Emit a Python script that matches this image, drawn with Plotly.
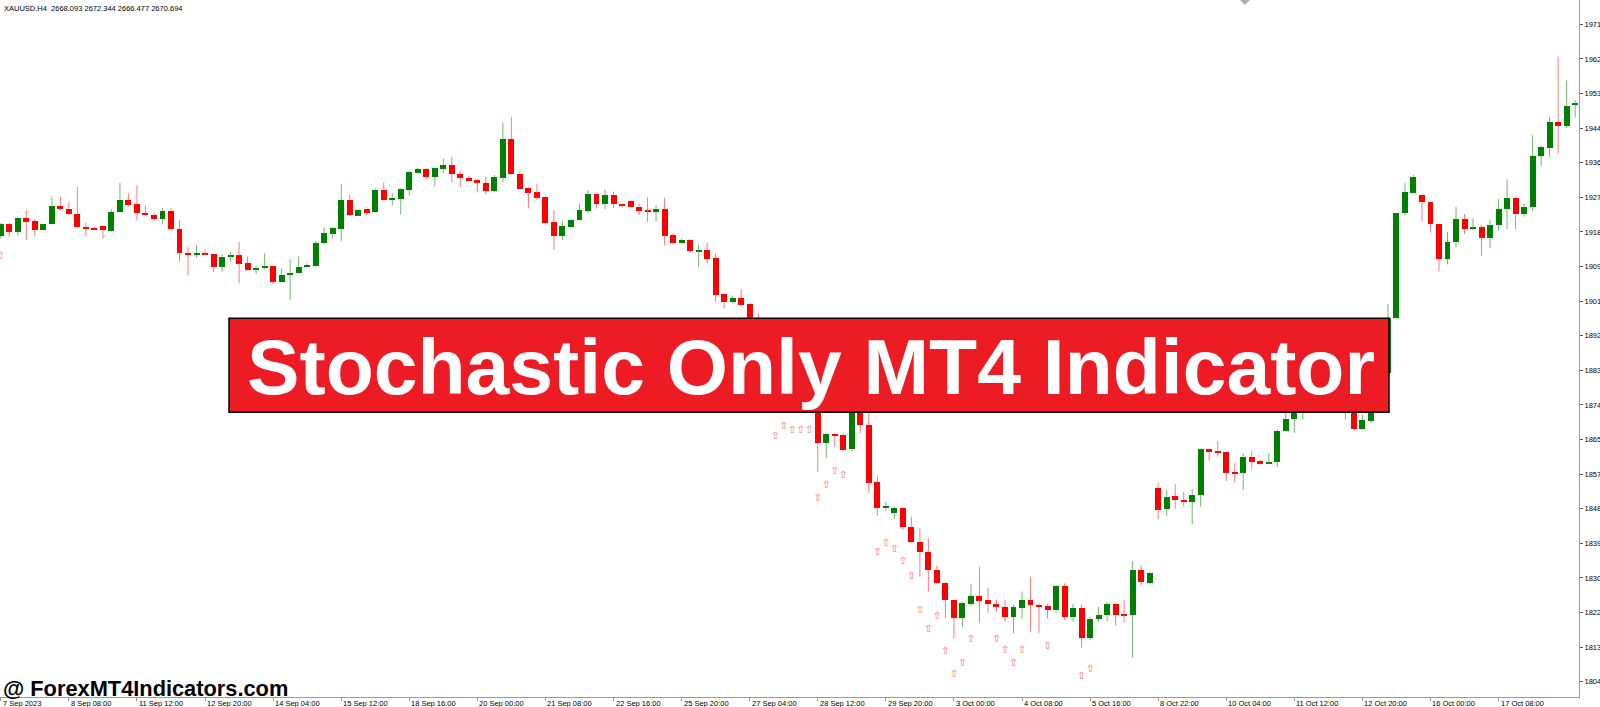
import plotly.graph_objects as go

# ---------------- data (XAUUSD H4) ----------------
opens = [1917.2, 1920.2, 1918.3, 1921.9, 1921.0, 1918.7, 1920.2, 1924.9, 1924.2, 1922.9,
         1919.5, 1919.3, 1919.7, 1918.5, 1923.2, 1926.4, 1925.3, 1923.1, 1922.6, 1921.5,
         1923.6, 1919.0, 1912.9, 1912.4, 1912.9, 1912.6, 1909.4, 1912.0, 1912.3, 1910.3,
         1908.7, 1909.2, 1909.7, 1905.6, 1907.4, 1907.8, 1909.4, 1909.7, 1915.4, 1917.8,
         1919.1, 1926.4, 1922.4, 1924.2, 1923.3, 1928.9, 1926.4, 1926.7, 1928.9, 1933.3,
         1934.2, 1932.2, 1934.3, 1935.2, 1933.0, 1931.9, 1931.4, 1930.7, 1928.6, 1932.0,
         1941.9, 1933.0, 1929.4, 1928.3, 1927.1, 1920.7, 1917.3, 1919.4, 1921.3, 1923.6,
         1927.9, 1925.3, 1927.6, 1925.3, 1926.2, 1924.7, 1923.6, 1923.4, 1924.1, 1917.4,
         1915.5, 1916.2, 1913.4, 1913.7, 1911.6, 1902.4, 1900.4, 1901.5, 1899.9, 1893.9,
         1890.3, 1892.8, 1879.4, 1877.3, 1878.6, 1876.8, 1876.1, 1864.6, 1866.9, 1866.6,
         1863.0, 1876.8, 1869.2, 1854.7, 1848.0, 1846.9, 1848.1, 1843.2, 1839.5, 1837.0,
         1832.4, 1829.1, 1824.8, 1820.3, 1823.7, 1825.8, 1824.8, 1823.7, 1823.0, 1820.4,
         1822.8, 1824.8, 1823.5, 1823.2, 1822.1, 1828.2, 1820.4, 1822.7, 1815.1, 1819.9,
         1820.9, 1823.8, 1821.2, 1820.9, 1832.4, 1829.0, 1853.3, 1847.8, 1851.1, 1850.2,
         1849.7, 1851.4, 1863.0, 1862.5, 1862.3, 1857.3, 1857.1, 1861.2, 1860.0, 1859.5,
         1859.9, 1867.8, 1870.8, 1876.1, 1879.4, 1877.6, 1880.6, 1878.6, 1875.0, 1873.0,
         1868.1, 1870.3, 1874.3, 1882.3, 1896.3, 1923.0, 1928.2, 1927.6, 1925.9, 1920.3,
         1911.4, 1915.6, 1921.5, 1919.0, 1919.4, 1916.8, 1919.9, 1924.0, 1926.9, 1922.7,
         1924.7, 1937.5, 1939.5, 1946.2, 1945.2, 1950.5]
highs = [1920.5, 1920.5, 1922.1, 1923.8, 1921.6, 1920.3, 1927.1, 1927.3, 1925.9, 1929.7,
         1920.6, 1919.6, 1919.7, 1924.0, 1930.7, 1928.1, 1930.1, 1925.0, 1923.1, 1924.3,
         1924.3, 1921.3, 1914.5, 1914.9, 1913.8, 1912.6, 1912.6, 1913.1, 1915.7, 1912.0,
         1909.7, 1912.8, 1909.7, 1909.0, 1911.3, 1912.0, 1910.3, 1915.9, 1919.4, 1919.6,
         1930.4, 1927.8, 1924.0, 1924.5, 1929.3, 1930.8, 1928.1, 1929.3, 1933.7, 1934.6,
         1934.4, 1934.7, 1936.9, 1937.4, 1933.7, 1932.5, 1931.6, 1932.2, 1932.7, 1946.0,
         1947.5, 1933.8, 1929.6, 1930.5, 1927.3, 1923.8, 1921.0, 1921.6, 1925.5, 1928.9,
         1928.1, 1929.1, 1928.5, 1925.5, 1926.4, 1925.3, 1927.1, 1925.0, 1926.9, 1917.9,
         1916.6, 1916.4, 1915.1, 1915.6, 1912.8, 1902.7, 1902.0, 1903.7, 1900.1, 1897.7,
         1894.4, 1893.8, 1881.9, 1879.6, 1879.6, 1878.1, 1876.8, 1866.9, 1866.9, 1867.1,
         1878.6, 1878.1, 1873.0, 1856.3, 1849.6, 1848.5, 1848.3, 1845.9, 1843.0, 1840.4,
         1833.4, 1829.3, 1824.8, 1824.3, 1828.8, 1833.2, 1827.9, 1824.8, 1824.8, 1823.5,
         1826.9, 1830.5, 1823.9, 1823.8, 1828.6, 1829.0, 1823.7, 1823.7, 1820.5, 1823.0,
         1824.2, 1824.1, 1824.8, 1834.7, 1833.6, 1831.9, 1854.5, 1852.7, 1854.2, 1852.2,
         1853.0, 1863.2, 1863.2, 1865.1, 1862.3, 1859.6, 1862.0, 1862.6, 1860.3, 1862.0,
         1868.1, 1873.0, 1877.3, 1881.1, 1880.6, 1882.7, 1881.9, 1879.6, 1876.1, 1874.3,
         1871.8, 1875.6, 1883.2, 1899.9, 1923.1, 1930.8, 1932.7, 1927.6, 1925.9, 1920.3,
         1918.3, 1924.7, 1922.8, 1921.7, 1920.0, 1921.3, 1926.6, 1931.6, 1926.9, 1925.5,
         1942.9, 1940.1, 1947.5, 1962.8, 1956.7, 1951.8]
lows = [1916.6, 1917.0, 1917.3, 1916.2, 1917.2, 1918.7, 1920.1, 1923.8, 1922.6, 1919.2,
        1917.2, 1918.7, 1916.5, 1918.4, 1923.1, 1924.7, 1921.3, 1922.4, 1921.1, 1920.3,
        1918.7, 1910.7, 1907.3, 1911.7, 1912.4, 1908.1, 1908.1, 1910.7, 1905.2, 1908.4,
        1907.6, 1908.8, 1905.0, 1905.4, 1901.0, 1907.8, 1909.3, 1909.4, 1915.2, 1916.6,
        1916.0, 1922.3, 1922.3, 1922.4, 1923.1, 1926.2, 1925.0, 1922.7, 1927.5, 1933.1,
        1931.7, 1929.8, 1933.3, 1930.9, 1929.7, 1931.0, 1928.3, 1927.8, 1928.4, 1930.9,
        1932.7, 1929.1, 1924.2, 1926.4, 1920.1, 1913.7, 1916.2, 1919.3, 1921.1, 1923.1,
        1924.2, 1924.1, 1924.4, 1924.5, 1924.5, 1922.6, 1920.8, 1920.9, 1914.9, 1915.2,
        1915.4, 1913.0, 1909.4, 1910.3, 1900.5, 1898.8, 1900.1, 1899.5, 1892.6, 1888.8,
        1889.3, 1873.5, 1876.1, 1875.0, 1875.0, 1874.8, 1857.3, 1860.8, 1863.7, 1862.6,
        1862.6, 1867.2, 1852.0, 1846.1, 1847.4, 1845.4, 1842.7, 1839.2, 1830.7, 1826.9,
        1828.8, 1820.1, 1815.0, 1817.8, 1823.2, 1819.0, 1821.5, 1821.8, 1819.3, 1816.3,
        1819.9, 1816.7, 1816.3, 1820.0, 1821.5, 1819.7, 1819.3, 1812.6, 1814.6, 1819.2,
        1819.4, 1818.2, 1819.1, 1810.1, 1828.5, 1828.7, 1845.3, 1846.1, 1847.8, 1848.6,
        1844.0, 1848.5, 1860.1, 1861.2, 1855.0, 1854.6, 1852.7, 1857.9, 1859.2, 1859.3,
        1858.5, 1867.5, 1867.2, 1870.6, 1876.1, 1876.6, 1876.8, 1874.0, 1870.6, 1867.8,
        1867.9, 1869.6, 1873.0, 1881.1, 1896.1, 1922.4, 1928.1, 1921.0, 1918.1, 1908.2,
        1910.0, 1914.3, 1917.7, 1918.7, 1912.2, 1914.1, 1918.6, 1919.0, 1919.0, 1922.1,
        1923.6, 1935.1, 1937.2, 1938.2, 1944.6, 1947.3]
closes = [1920.2, 1918.3, 1921.9, 1920.9, 1918.7, 1920.2, 1924.9, 1924.1, 1922.8, 1919.4,
          1919.1, 1918.9, 1918.8, 1923.3, 1926.4, 1925.2, 1923.0, 1922.6, 1921.5, 1923.6,
          1918.9, 1912.8, 1912.4, 1912.9, 1912.6, 1909.4, 1912.0, 1912.3, 1910.2, 1908.7,
          1909.2, 1909.7, 1905.6, 1907.4, 1907.9, 1909.4, 1909.8, 1915.4, 1917.9, 1919.2,
          1926.4, 1922.5, 1923.8, 1923.1, 1928.9, 1926.4, 1926.9, 1929.1, 1933.4, 1934.2,
          1932.3, 1934.4, 1935.2, 1933.0, 1931.9, 1931.3, 1930.6, 1928.7, 1932.1, 1941.9,
          1932.9, 1929.2, 1928.2, 1927.0, 1920.4, 1917.3, 1919.8, 1921.4, 1923.8, 1927.9,
          1925.3, 1927.6, 1925.3, 1925.0, 1924.7, 1923.6, 1923.4, 1924.1, 1917.3, 1915.4,
          1916.2, 1913.4, 1913.7, 1911.4, 1902.3, 1900.4, 1901.5, 1899.8, 1893.9, 1890.3,
          1892.8, 1879.4, 1877.3, 1878.6, 1876.8, 1876.1, 1864.6, 1866.9, 1866.5, 1862.9,
          1876.8, 1869.2, 1854.6, 1848.0, 1848.7, 1848.1, 1843.2, 1839.5, 1837.0, 1832.3,
          1829.0, 1824.8, 1820.3, 1823.9, 1825.8, 1824.6, 1823.7, 1823.1, 1820.4, 1822.9,
          1824.8, 1823.5, 1823.0, 1822.2, 1828.2, 1820.4, 1822.7, 1815.1, 1820.0, 1820.9,
          1823.8, 1820.9, 1820.9, 1832.4, 1829.2, 1831.7, 1847.7, 1850.8, 1850.2, 1849.7,
          1851.4, 1863.0, 1862.3, 1862.2, 1857.1, 1856.8, 1861.2, 1859.9, 1859.4, 1859.9,
          1867.8, 1870.7, 1876.1, 1879.4, 1877.6, 1880.6, 1878.6, 1875.0, 1873.0, 1868.1,
          1870.5, 1874.3, 1882.2, 1896.3, 1923.0, 1928.3, 1932.3, 1925.8, 1920.2, 1911.4,
          1915.7, 1921.5, 1919.0, 1919.4, 1916.8, 1919.9, 1924.0, 1926.9, 1922.7, 1924.7,
          1937.5, 1939.8, 1946.2, 1945.2, 1950.3, 1950.9]

# Stochastic "buy" arrows: bar index and price level
arrow_bars = [0, 91, 92, 93, 94, 95, 96, 97, 98, 99, 103, 104, 105, 106, 107, 108, 109,
              110, 111, 112, 113, 114, 117, 118, 119, 120, 123, 127, 128]
arrow_prices = [1912.0, 1866.2, 1868.9, 1867.9, 1867.9, 1867.9, 1850.6, 1853.8, 1857.3,
                1856.5, 1836.9, 1839.2, 1837.6, 1834.5, 1830.8, 1822.0, 1817.3, 1820.5,
                1811.6, 1805.9, 1808.7, 1814.6, 1814.6, 1811.8, 1808.5, 1812.0, 1812.9,
                1805.3, 1807.1]

time_labels = ["7 Sep 2023", "8 Sep 08:00", "11 Sep 12:00", "12 Sep 20:00", "14 Sep 04:00",
               "15 Sep 12:00", "18 Sep 16:00", "20 Sep 00:00", "21 Sep 08:00", "22 Sep 16:00",
               "25 Sep 20:00", "27 Sep 04:00", "28 Sep 12:00", "29 Sep 20:00", "3 Oct 00:00",
               "4 Oct 08:00", "5 Oct 16:00", "8 Oct 22:00", "10 Oct 04:00", "11 Oct 12:00",
               "12 Oct 20:00", "16 Oct 00:00", "17 Oct 08:00"]
time_label_bars = [0, 8, 16, 24, 32, 40, 48, 56, 64, 72, 80, 88, 96, 104, 112, 120, 128,
                   136, 144, 152, 160, 168, 176]
price_labels = ["1804", "1813", "1822", "1830", "1839", "1848", "1857", "1865", "1874",
                "1883", "1892", "1901", "1909", "1918", "1927", "1936", "1944", "1953",
                "1962", "1971"]
price_label_values = [1804 + k * 167 / 19 for k in range(len(price_labels))]

header_text = "XAUUSD,H4  2668.093 2672.344 2666.477 2670.694"
banner_text = "Stochastic Only MT4 Indicator"
watermark_text = "@ ForexMT4Indicators.com"

# ---------------- figure ----------------
W, H = 1600, 707
ML, MR, MT, MB = 0, 21, 0, 10
PW, PH = W - ML - MR, H - MT - MB

UP_BODY, DN_BODY = "#008000", "#ff0000"
UP_WICK, DN_WICK = "#6fb86f", "#ff7a7a"

n = len(opens)
idx = list(range(n))
is_up = [c >= o for o, c in zip(opens, closes)]

fig = go.Figure()

for want_up, body_col, wick_col in [(True, UP_BODY, UP_WICK), (False, DN_BODY, DN_WICK)]:
    sel = [i for i in idx if is_up[i] == want_up]
    wx, wy = [], []
    for i in sel:
        top = max(opens[i], closes[i])
        bot = min(opens[i], closes[i])
        wx += [i, i, None, i, i, None]
        wy += [highs[i], top, None, bot, lows[i], None]
    fig.add_trace(go.Scatter(x=wx, y=wy, mode="lines",
                             line=dict(color=wick_col, width=1),
                             hoverinfo="skip", showlegend=False))
    fig.add_trace(go.Bar(
        x=sel,
        base=[min(opens[i], closes[i]) for i in sel],
        y=[max(abs(closes[i] - opens[i]), 0.3) for i in sel],
        width=0.7,
        marker=dict(color=body_col, line=dict(width=0)),
        hoverinfo="skip", showlegend=False))

fig.add_trace(go.Scatter(
    x=arrow_bars, y=arrow_prices, mode="text",
    text=["\u21e7"] * len(arrow_bars),
    textposition="middle center",
    textfont=dict(family="DejaVu Sans", size=10, color="#ff6f6f"),
    hoverinfo="skip", showlegend=False))

px_per_bar = 8.51
x0 = -0.8 / px_per_bar
x1 = x0 + PW / px_per_bar
y_top = 1977.17
y_bot = y_top - 0.25403 * PH

axis_gray = "#9a9a9a"
fig.update_xaxes(range=[x0, x1], showgrid=False, zeroline=False,
                 tickvals=time_label_bars, showticklabels=False,
                 ticks="outside", ticklen=3, tickcolor=axis_gray, tickwidth=1,
                 showline=True, linecolor=axis_gray, linewidth=1, automargin=False)
fig.update_yaxes(range=[y_bot, y_top], side="right", showgrid=False, zeroline=False,
                 tickvals=price_label_values, ticktext=price_labels,
                 ticks="outside", ticklen=3, tickcolor="#555555", tickwidth=1,
                 tickfont=dict(family="Liberation Sans", size=7.5, color="#000000"),
                 showline=True, mirror=True, linecolor=axis_gray, linewidth=1,
                 automargin=False)

annotations = []
for b, lab in zip(time_label_bars, time_labels):
    annotations.append(dict(x=b, xref="x", y=0, yref="paper", yshift=0,
                            text=lab, showarrow=False, xanchor="left", yanchor="top",
                            font=dict(family="Liberation Sans", size=7.5, color="#000000")))
annotations.append(dict(x=0, xref="paper", xshift=2, y=1, yref="paper", yshift=-2,
                        text=header_text, showarrow=False, xanchor="left", yanchor="top",
                        font=dict(family="Liberation Sans", size=7.5, color="#000000")))
annotations.append(dict(x=0, xref="paper", xshift=1, y=1 - 688 / PH, yref="paper",
                        text="<b>" + watermark_text + "</b>", showarrow=False,
                        xanchor="left", yanchor="middle",
                        font=dict(family="Liberation Sans", size=21.8, color="#000000")))
annotations.append(dict(x=811 / PW, xref="paper", y=1 - 367 / PH, yref="paper",
                        text="<b>" + banner_text + "</b>", showarrow=False,
                        xanchor="center", yanchor="middle",
                        font=dict(family="Liberation Sans", size=78.7, color="#ffffff")))

shapes = [
    dict(type="rect", xref="paper", yref="paper",
         x0=229 / PW, x1=1389 / PW, y0=1 - 412.3 / PH, y1=1 - 318.3 / PH,
         fillcolor="#ed1c24", line=dict(color="#000000", width=1.5), layer="above"),
    dict(type="path", xref="paper", yref="paper",
         path=f"M {1240/PW} 1 L {1250/PW} 1 L {1245/PW} {1 - 5/PH} Z",
         fillcolor="#b0b0b0", line=dict(width=0), layer="above"),
]

fig.update_layout(
    width=W, height=H,
    margin=dict(l=ML, r=MR, t=MT, b=MB, autoexpand=False),
    paper_bgcolor="#ffffff", plot_bgcolor="#ffffff",
    barmode="overlay", bargap=0,
    showlegend=False,
    annotations=annotations, shapes=shapes,
    hovermode=False,
)

fig.write_html("out.html", config={"displayModeBar": False},
               post_script="document.body.style.margin='0';document.body.style.overflow='hidden';")
